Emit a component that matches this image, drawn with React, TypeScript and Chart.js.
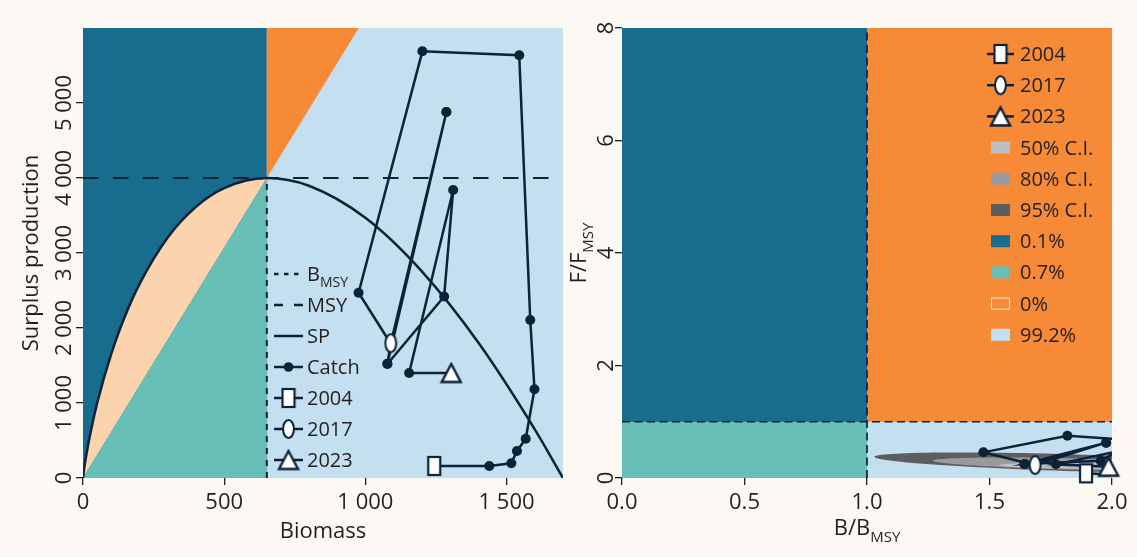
import React, { useEffect, useRef } from "react";
import { Chart, registerables } from "chart.js";

Chart.register(...registerables);

// ---------------- data ----------------
const years = [2004, 2005, 2006, 2007, 2008, 2009, 2010, 2011, 2012, 2013, 2014, 2015, 2016, 2017, 2018, 2019, 2020, 2021, 2022, 2023];
const biomass = [1244, 1439, 1517, 1537, 1568, 1599, 1584, 1545, 1202, 976, 1092, 1287, 1078, 1090, 1287, 1078, 1279, 1311, 1155, 1304];
const catches = [160, 160, 196, 360, 524, 1183, 2107, 5636, 5689, 2471, 1780, 4880, 1525, 1797, 4880, 1520, 2420, 3840, 1400, 1400];

const spBiomass = [0, 5, 10, 25, 50, 100, 150, 200, 300, 400, 500, 651, 800, 1000, 1200, 1400, 1600, 1700];
const spValues = [0, 148, 269, 577, 997, 1655, 2170, 2586, 3207, 3615, 3865, 4000, 3897, 3469, 2755, 1806, 649, 0];

const bmsy = 651;
const msy = 4000;
const biomassMax = 1700;
const productionMax = 6000;
const biomassTicks = [0, 500, 1000, 1500];
const productionTicks = [0, 1000, 2000, 3000, 4000, 5000];

const kobeB = [1.894, 2.21, 2.33, 2.36, 2.41, 2.46, 2.43, 2.37, 1.818, 1.475, 1.68, 1.976, 1.645, 1.686, 1.976, 1.642, 1.954, 2.02, 1.771, 1.986];
const kobeF = [0.083, 0.02, 0.02, 0.04, 0.06, 0.12, 0.21, 0.59, 0.752, 0.457, 0.235, 0.628, 0.25, 0.231, 0.628, 0.249, 0.308, 0.47, 0.243, 0.2];
const ratioBMax = 2;
const ratioFMax = 8;
const ratioBTicks = [0, 0.5, 1, 1.5, 2];
const ratioFTicks = [0, 2, 4, 6, 8];

const ciLabels = ["50% C.I.", "80% C.I.", "95% C.I."];
const ciCenterB = [1.85, 1.85, 1.85];
const ciCenterF = [0.22, 0.25, 0.27];
const ciSpreadB = [0.31, 0.58, 0.82];
const ciSpreadF = [0.055, 0.1, 0.15];
const ciTilt = [-0.03, -0.1, -0.13];

const quadrantLabels = ["0.1%", "0.7%", "0%", "99.2%"];
const leftLegendLabels = ["B_MSY", "MSY", "SP", "Catch", "2004", "2017", "2023"];
const markedYears = [2004, 2017, 2023];

// ---------------- styles ----------------
const NAVY = "#0c2238";
const TEXT = "#231f20";
const FONT = "'Open Sans', 'Noto Sans', sans-serif";
const LINE_W = 2.5;
const COLORS = {
  darkBlue: "#186d8e",
  teal: "#67bfb7",
  peach: "#fbd4ae",
  orange: "#f68a36",
  lightBlue: "#c3dff0",
  bg: "#fcf9f4",
  ci50: "#bebec2",
  ci80: "#9a9a9e",
  ci95: "#5d5d5f",
};
const ciColors = [COLORS.ci50, COLORS.ci80, COLORS.ci95];
const quadrantColors = [COLORS.darkBlue, COLORS.teal, COLORS.orange, COLORS.lightBlue];

function makeMarker(kind: string) {
  const c = document.createElement("canvas");
  const g = c.getContext("2d")!;
  if (kind === "rect") {
    c.width = 16; c.height = 22;
    g.fillStyle = "#fff"; g.strokeStyle = NAVY; g.lineWidth = 2.2;
    g.fillRect(2, 2, 12, 18); g.strokeRect(2, 2, 12, 18);
  } else if (kind === "ellipse") {
    c.width = 15; c.height = 22;
    g.fillStyle = "#fff"; g.strokeStyle = NAVY; g.lineWidth = 2;
    g.beginPath(); g.ellipse(7.5, 11, 5.4, 9, 0, 0, Math.PI * 2); g.fill(); g.stroke();
  } else {
    c.width = 24; c.height = 23;
    g.fillStyle = "#fff"; g.strokeStyle = NAVY; g.lineWidth = 2.4; g.lineJoin = "miter";
    g.beginPath(); g.moveTo(12, 2.5); g.lineTo(2.5, 20.5); g.lineTo(21.5, 20.5); g.closePath(); g.fill(); g.stroke();
  }
  return c;
}

function fmtThousands(v: number) {
  return String(v).replace(/\B(?=(\d{3})+(?!\d))/g, " ");
}

function drawMainSub(ctx: any, text: string, x: number, baseY: number, size: number, subSize: number, drop: number, align: string) {
  const parts = text.split("_");
  ctx.font = `${size}px ${FONT}`;
  const w1 = ctx.measureText(parts[0]).width;
  let w2 = 0;
  if (parts[1]) { ctx.font = `${subSize}px ${FONT}`; w2 = ctx.measureText(parts[1]).width; }
  const start = align === "center" ? x - (w1 + w2) / 2 : x;
  ctx.textAlign = "left";
  ctx.textBaseline = "alphabetic";
  ctx.fillStyle = TEXT;
  ctx.font = `${size}px ${FONT}`;
  ctx.fillText(parts[0], start, baseY);
  if (parts[1]) { ctx.font = `${subSize}px ${FONT}`; ctx.fillText(parts[1], start + w1, baseY + drop); }
}

function drawRotated(ctx: any, x: number, y: number, fn: () => void) {
  ctx.save();
  ctx.translate(x, y);
  ctx.rotate(-Math.PI / 2);
  fn();
  ctx.restore();
}

function polygon(ctx: any, pts: number[][], color: string) {
  ctx.beginPath();
  pts.forEach((p, i) => (i ? ctx.lineTo(p[0], p[1]) : ctx.moveTo(p[0], p[1])));
  ctx.closePath();
  ctx.fillStyle = color;
  ctx.fill();
}

function legendSymbol(ctx: any, kind: string, x0: number, x1: number, y: number, markers: any) {
  ctx.save();
  ctx.strokeStyle = NAVY;
  ctx.lineWidth = LINE_W;
  if (kind === "dot3") ctx.setLineDash([4.5, 5.5]);
  if (kind === "dash") ctx.setLineDash([9, 11]);
  ctx.beginPath(); ctx.moveTo(x0, y); ctx.lineTo(x1, y); ctx.stroke();
  ctx.setLineDash([]);
  const xm = (x0 + x1) / 2;
  if (kind === "catch") {
    ctx.fillStyle = NAVY; ctx.beginPath(); ctx.arc(xm, y, 4.8, 0, Math.PI * 2); ctx.fill();
  } else if (markers[kind]) {
    const m = markers[kind];
    ctx.drawImage(m, xm - m.width / 2, y - m.height / 2);
  }
  ctx.restore();
}

function yearMarker(year: number, markers: any) {
  if (year === markedYears[0]) return markers.rect;
  if (year === markedYears[1]) return markers.ellipse;
  if (year === markedYears[2]) return markers.triangle;
  return "circle";
}

function axisBase(min: number, max: number, ticks: number[], size: string, px: number) {
  return {
    type: "linear",
    min, max,
    afterBuildTicks: (s: any) => { s.ticks = ticks.map((v) => ({ value: v })); },
    afterFit: (s: any) => { if (size === "h") s.height = px; else s.width = px; },
    grid: { display: true, drawOnChartArea: false, drawTicks: true, tickLength: 7, color: TEXT, lineWidth: 1.3 },
    border: { display: false },
  };
}

// ---------------- left chart ----------------
function leftConfig(markers: any) {
  const pts = years.map((_, i) => ({ x: biomass[i], y: catches[i] }));
  const spPts = spBiomass.map((b, i) => ({ x: b, y: spValues[i] }));
  const plugin = {
    id: "leftDecor",
    beforeDatasetsDraw(chart: any) {
      const { ctx, chartArea: a } = chart;
      const X = (v: number) => chart.scales.x.getPixelForValue(v);
      const Y = (v: number) => chart.scales.y.getPixelForValue(v);
      ctx.save();
      ctx.beginPath(); ctx.rect(a.left, a.top, a.right - a.left, a.bottom - a.top); ctx.clip();
      ctx.fillStyle = COLORS.darkBlue;
      ctx.fillRect(X(0), Y(productionMax), X(bmsy) - X(0) + 0.5, Y(0) - Y(productionMax));
      ctx.fillStyle = COLORS.lightBlue;
      ctx.fillRect(X(bmsy), Y(productionMax), X(biomassMax) - X(bmsy), Y(0) - Y(productionMax));
      const fmsyTop = (productionMax * bmsy) / msy;
      polygon(ctx, [[X(bmsy), Y(msy)], [X(bmsy), Y(productionMax)], [X(fmsyTop), Y(productionMax)]], COLORS.orange);
      const idx = spBiomass.indexOf(bmsy);
      ctx.beginPath();
      let ok = false;
      try {
        const line = chart.getDatasetMeta(2).dataset;
        line.updateControlPoints(a, "x");
        line.path(ctx, 0, idx + 1);
        ok = true;
      } catch (e) { ok = false; }
      if (!ok) {
        ctx.beginPath();
        for (let i = 0; i <= idx; i++) { const px = X(spBiomass[i]), py = Y(spValues[i]); i ? ctx.lineTo(px, py) : ctx.moveTo(px, py); }
      }
      ctx.lineTo(X(0), Y(0));
      ctx.closePath();
      ctx.fillStyle = COLORS.peach;
      ctx.fill();
      polygon(ctx, [[X(0), Y(0)], [X(bmsy), Y(msy)], [X(bmsy) + 0.5, Y(msy)], [X(bmsy) + 0.5, Y(0)]], COLORS.teal);
      ctx.restore();
    },
    afterDraw(chart: any) {
      const { ctx, chartArea: a } = chart;
      const Y = (v: number) => chart.scales.y.getPixelForValue(v);
      ctx.save();
      productionTicks.forEach((v) => {
        drawRotated(ctx, a.left - 12, Y(v), () => {
          ctx.font = `22px ${FONT}`; ctx.fillStyle = TEXT; ctx.textAlign = "center"; ctx.textBaseline = "alphabetic";
          ctx.fillText(fmtThousands(v), 0, 0);
        });
      });
      drawRotated(ctx, 38, (a.top + a.bottom) / 2, () => {
        ctx.font = `22px ${FONT}`; ctx.fillStyle = TEXT; ctx.textAlign = "center"; ctx.textBaseline = "alphabetic";
        ctx.fillText("Surplus production", 0, 0);
      });
      ctx.font = `22px ${FONT}`; ctx.fillStyle = TEXT; ctx.textAlign = "center"; ctx.textBaseline = "alphabetic";
      ctx.fillText("Biomass", (a.left + a.right) / 2, 538);
      const kinds = ["dot3", "dash", "solid", "catch", "rect", "ellipse", "triangle"];
      leftLegendLabels.forEach((lab, i) => {
        const y = 274 + i * 31;
        legendSymbol(ctx, kinds[i], 274, 303, y, markers);
        drawMainSub(ctx, lab, 307, y + 7, 20, 14, 6, "left");
      });
      ctx.restore();
    },
  };
  return {
    type: "scatter",
    data: {
      datasets: [
        {
          data: pts, showLine: false, clip: false,
          pointStyle: years.map((y) => yearMarker(y, markers)),
          pointRadius: 5, pointBackgroundColor: NAVY, pointBorderWidth: 0,
        },
        { data: pts, showLine: true, borderColor: NAVY, borderWidth: LINE_W, pointRadius: 0, clip: 0 },
        { data: spPts, showLine: true, borderColor: NAVY, borderWidth: LINE_W, pointRadius: 0, cubicInterpolationMode: "monotone", clip: 0 },
        { data: [{ x: 0, y: msy }, { x: biomassMax, y: msy }], showLine: true, borderColor: NAVY, borderWidth: 2, borderDash: [15.5, 14.5], pointRadius: 0, clip: 0 },
        { data: [{ x: bmsy, y: 0 }, { x: bmsy, y: msy }], showLine: true, borderColor: NAVY, borderWidth: 2, borderDash: [6, 6], pointRadius: 0, clip: 0 },
      ],
    },
    options: {
      animation: false, responsive: false, events: [],
      layout: { padding: { left: 0, right: 2, top: 28, bottom: 0 }, autoPadding: false },
      plugins: { legend: { display: false }, tooltip: { enabled: false } },
      scales: {
        x: {
          ...axisBase(0, biomassMax, biomassTicks, "h", 79),
          ticks: { font: { size: 22, family: FONT }, color: TEXT, padding: 5, maxRotation: 0, autoSkip: false, callback: (v: number) => fmtThousands(v) },
        },
        y: {
          ...axisBase(0, productionMax, productionTicks, "w", 83),
          ticks: { font: { size: 22, family: FONT }, color: "rgba(0,0,0,0)", autoSkip: false },
        },
      },
    },
    plugins: [plugin],
  };
}

// ---------------- right chart ----------------
function rightConfig(markers: any) {
  const pts = years.map((_, i) => ({ x: kobeB[i], y: kobeF[i] }));
  const plugin = {
    id: "rightDecor",
    beforeDatasetsDraw(chart: any) {
      const { ctx, chartArea: a } = chart;
      const X = (v: number) => chart.scales.x.getPixelForValue(v);
      const Y = (v: number) => chart.scales.y.getPixelForValue(v);
      ctx.save();
      ctx.beginPath(); ctx.rect(a.left, a.top, a.right - a.left, a.bottom - a.top); ctx.clip();
      const rects = [
        [0, 1, 1, ratioFMax],
        [0, 1, 0, 1],
        [1, ratioBMax, 1, ratioFMax],
        [1, ratioBMax, 0, 1],
      ];
      rects.forEach((r, i) => {
        ctx.fillStyle = quadrantColors[i];
        ctx.fillRect(X(r[0]), Y(r[3]), X(r[1]) - X(r[0]) + 0.5, Y(r[2]) - Y(r[3]) + 0.5);
      });
      for (let k = ciLabels.length - 1; k >= 0; k--) {
        ctx.beginPath();
        for (let s = 0; s <= 120; s++) {
          const t = (s / 120) * Math.PI * 2;
          const db = ciSpreadB[k] * Math.cos(t);
          const b = ciCenterB[k] + db;
          const f = ciCenterF[k] + ciTilt[k] * db + ciSpreadF[k] * Math.sin(t);
          s ? ctx.lineTo(X(b), Y(f)) : ctx.moveTo(X(b), Y(f));
        }
        ctx.closePath();
        ctx.fillStyle = ciColors[k];
        ctx.fill();
      }
      ctx.restore();
    },
    afterDraw(chart: any) {
      const { ctx, chartArea: a } = chart;
      const Y = (v: number) => chart.scales.y.getPixelForValue(v);
      ctx.save();
      ratioFTicks.forEach((v) => {
        drawRotated(ctx, a.left - 9, Y(v), () => {
          ctx.font = `22px ${FONT}`; ctx.fillStyle = TEXT; ctx.textAlign = "center"; ctx.textBaseline = "alphabetic";
          ctx.fillText(String(v), 0, 0);
        });
      });
      drawRotated(ctx, 21, (a.top + a.bottom) / 2, () => {
        drawMainSub(ctx, "F/F_MSY", 0, 0, 22, 15, 6.5, "center");
      });
      drawMainSub(ctx, "B/B_MSY", (a.left + a.right) / 2, 535, 22, 15, 6.5, "center");
      const kinds = ["rect", "ellipse", "triangle"];
      const yearLabels = markedYears.map(String);
      const x0 = 422, x1 = 449, tx = 455;
      yearLabels.forEach((lab, i) => {
        const y = 54 + i * 31.2;
        legendSymbol(ctx, kinds[i], x0, x1, y, markers);
        drawMainSub(ctx, lab, tx, y + 7, 20, 14, 6, "left");
      });
      const boxLabels = [...ciLabels, ...quadrantLabels];
      const boxColors = [...ciColors, ...quadrantColors];
      boxLabels.forEach((lab, i) => {
        const y = 54 + (i + 3) * 31.2;
        ctx.fillStyle = boxColors[i];
        ctx.fillRect(426, y - 6, 19, 12);
        if (boxColors[i] === COLORS.orange) {
          ctx.strokeStyle = "#fde3cc"; ctx.lineWidth = 1; ctx.strokeRect(426.5, y - 5.5, 18, 11);
        }
        drawMainSub(ctx, lab, tx, y + 7, 20, 14, 6, "left");
      });
      ctx.restore();
    },
  };
  return {
    type: "scatter",
    data: {
      datasets: [
        {
          data: pts, showLine: false, clip: false,
          pointStyle: years.map((y) => yearMarker(y, markers)),
          pointRadius: kobeB.map((b) => (b > ratioBMax ? 0 : 5)),
          pointBackgroundColor: NAVY, pointBorderWidth: 0,
        },
        { data: pts, showLine: true, borderColor: NAVY, borderWidth: LINE_W, pointRadius: 0, clip: 0 },
        { data: [{ x: 1, y: 0 }, { x: 1, y: ratioFMax }], showLine: true, borderColor: NAVY, borderWidth: 1.7, borderDash: [8, 4.5], pointRadius: 0, clip: 0 },
        { data: [{ x: 0, y: 1 }, { x: ratioBMax, y: 1 }], showLine: true, borderColor: NAVY, borderWidth: 1.7, borderDash: [8, 4.5], pointRadius: 0, clip: 0 },
      ],
    },
    options: {
      animation: false, responsive: false, events: [],
      layout: { padding: { left: 0, right: 25, top: 28, bottom: 0 }, autoPadding: false },
      plugins: { legend: { display: false }, tooltip: { enabled: false } },
      scales: {
        x: {
          ...axisBase(0, ratioBMax, ratioBTicks, "h", 79),
          ticks: { font: { size: 22, family: FONT }, color: TEXT, padding: 5, maxRotation: 0, autoSkip: false, callback: (v: number) => Number(v).toFixed(1) },
        },
        y: {
          ...axisBase(0, ratioFMax, ratioFTicks, "w", 57),
          ticks: { font: { size: 22, family: FONT }, color: "rgba(0,0,0,0)", autoSkip: false },
        },
      },
    },
    plugins: [plugin],
  };
}

export default function App() {
  const leftRef = useRef<HTMLCanvasElement>(null);
  const rightRef = useRef<HTMLCanvasElement>(null);
  useEffect(() => {
    const markers = { rect: makeMarker("rect"), ellipse: makeMarker("ellipse"), triangle: makeMarker("triangle") };
    const left = new Chart(leftRef.current as any, leftConfig(markers) as any);
    const right = new Chart(rightRef.current as any, rightConfig(markers) as any);
    return () => { left.destroy(); right.destroy(); };
  }, []);
  return (
    <div style={{ position: "absolute", left: 0, top: 0, width: 1137, height: 557, background: COLORS.bg, overflow: "hidden" }}>
      <canvas ref={leftRef} width={565} height={557} style={{ position: "absolute", left: 0, top: 0 }} />
      <canvas ref={rightRef} width={572} height={557} style={{ position: "absolute", left: 565, top: 0 }} />
    </div>
  );
}
